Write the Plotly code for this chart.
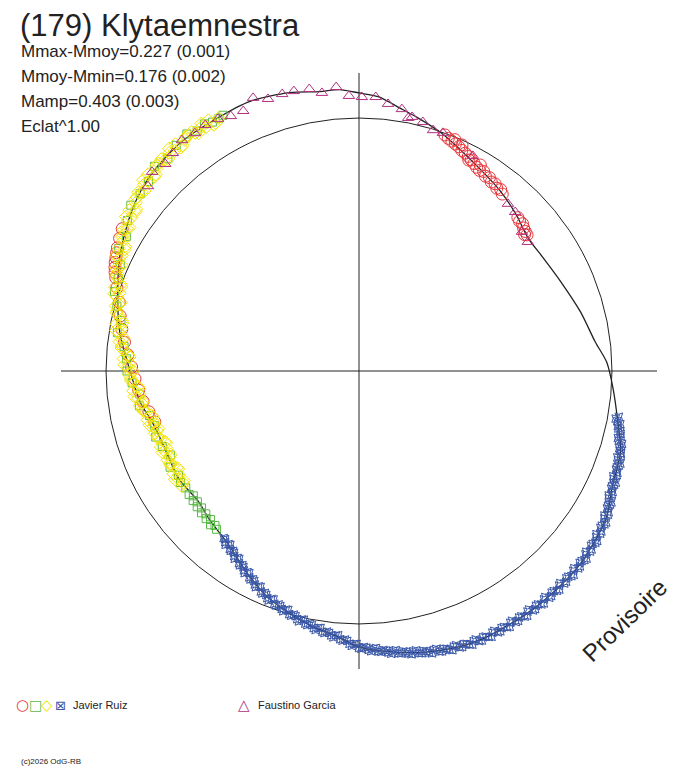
"""Polar lightcurve of (179) Klytaemnestra, recreated with Plotly."""
import plotly.graph_objects as go

# composite curve: phase angle (deg, clockwise from top) and relative flux (mean = 1)
curve_deg = [0, 4, 9, 13, 19, 27, 38, 45, 52, 58, 66, 75, 83, 88, 94, 101, 107, 115,
             121, 132, 144, 156, 164, 172, 180, 185, 190, 196, 202, 209, 217, 225,
             231, 239, 247, 255, 262, 270, 279, 286, 296, 306, 313, 322, 331, 338,
             346, 352, 356, 360]
curve_flux = [1.099, 1.087, 1.051, 1.028, 0.996, 0.949, 0.905, 0.877, 0.850, 0.854,
              0.872, 0.906, 0.941, 0.980, 1.007, 1.042, 1.081, 1.103, 1.138, 1.162,
              1.166, 1.166, 1.150, 1.123, 1.091, 1.051, 1.028, 0.996, 0.964, 0.913,
              0.858, 0.834, 0.818, 0.830, 0.826, 0.838, 0.874, 0.905, 0.957, 0.992,
              1.051, 1.103, 1.130, 1.146, 1.146, 1.150, 1.134, 1.115, 1.115, 1.099]

# Javier Ruiz - blue session, first night
blue_deg = list(range(100, 220))
blue_flux = [1.043, 1.040, 1.046, 1.060, 1.066, 1.063, 1.078, 1.077, 1.088, 1.083,
             1.093, 1.088, 1.099, 1.093, 1.104, 1.100, 1.112, 1.108, 1.124, 1.121,
             1.136, 1.131, 1.144, 1.138, 1.150, 1.144, 1.155, 1.148, 1.159, 1.152,
             1.163, 1.156, 1.166, 1.158, 1.167, 1.159, 1.168, 1.160, 1.169, 1.161,
             1.170, 1.162, 1.171, 1.162, 1.170, 1.161, 1.171, 1.162, 1.170, 1.161,
             1.170, 1.162, 1.170, 1.161, 1.170, 1.161, 1.169, 1.160, 1.167, 1.156,
             1.163, 1.152, 1.159, 1.148, 1.154, 1.142, 1.148, 1.136, 1.141, 1.129,
             1.134, 1.122, 1.127, 1.115, 1.119, 1.107, 1.111, 1.099, 1.103, 1.091,
             1.095, 1.079, 1.079, 1.063, 1.063, 1.049, 1.051, 1.038, 1.041, 1.028,
             1.032, 1.018, 1.021, 1.008, 1.011, 0.997, 1.000, 0.986, 0.989, 0.976,
             0.979, 0.965, 0.968, 0.953, 0.954, 0.939, 0.939, 0.924, 0.924, 0.909,
             0.910, 0.895, 0.896, 0.881, 0.882, 0.868, 0.869, 0.857, 0.859, 0.850]

# Javier Ruiz - blue session, second night
blue_b_deg = [a + 0.5 for a in range(100, 219)]
blue_b_flux = [1.032, 1.054, 1.050, 1.064, 1.057, 1.079, 1.073, 1.086, 1.077, 1.096,
               1.088, 1.098, 1.088, 1.107, 1.099, 1.111, 1.103, 1.125, 1.120, 1.134,
               1.126, 1.146, 1.138, 1.149, 1.139, 1.157, 1.149, 1.159, 1.148, 1.166,
               1.157, 1.166, 1.154, 1.170, 1.160, 1.168, 1.156, 1.172, 1.162, 1.170,
               1.158, 1.174, 1.163, 1.171, 1.158, 1.174, 1.163, 1.171, 1.158, 1.174,
               1.163, 1.171, 1.158, 1.174, 1.163, 1.171, 1.157, 1.171, 1.159, 1.165,
               1.150, 1.164, 1.151, 1.156, 1.140, 1.153, 1.139, 1.143, 1.127, 1.139,
               1.125, 1.129, 1.113, 1.125, 1.110, 1.114, 1.097, 1.109, 1.094, 1.098,
               1.079, 1.087, 1.068, 1.068, 1.048, 1.058, 1.042, 1.045, 1.027, 1.038,
               1.022, 1.025, 1.007, 1.018, 1.001, 1.004, 0.985, 0.996, 0.980, 0.983,
               0.964, 0.975, 0.958, 0.959, 0.938, 0.947, 0.928, 0.929, 0.909, 0.918,
               0.900, 0.901, 0.881, 0.890, 0.872, 0.873, 0.855, 0.866, 0.850]

# Javier Ruiz - red session
red_deg = [20, 21, 22, 22.5, 23, 24, 24.5, 25, 26, 27, 27.5, 28, 29, 30, 30.5, 31, 32,
           33, 34, 35, 36, 37, 38, 39, 46, 47, 48, 49, 50, 50.5, 51,
           256, 259, 262, 265, 268, 271, 274, 277, 280, 283, 286, 289, 291, 292, 293,
           294, 295, 296, 297, 299, 301]
red_flux = [0.993, 0.985, 0.980, 0.990, 0.975, 0.970, 0.982, 0.962, 0.958, 0.952,
            0.940, 0.945, 0.938, 0.930, 0.945, 0.925, 0.930, 0.918, 0.922, 0.912,
            0.915, 0.905, 0.910, 0.900, 0.873, 0.868, 0.870, 0.862, 0.858, 0.848,
            0.855,
            0.832, 0.846, 0.862, 0.874, 0.886, 0.899, 0.916, 0.934, 0.952, 0.969,
            0.986, 1.012, 1.030, 1.040, 1.048, 1.055, 1.060, 1.066, 1.072, 1.082,
            1.092]

# Javier Ruiz - green session
green_deg = [222, 223, 224, 225, 226, 227, 228, 229, 230, 231, 232, 233, 234, 236, 238,
             240, 243, 246, 249, 252, 255, 258, 261, 264, 267, 270, 273, 276, 279, 282,
             285, 288, 291, 294, 297, 300, 303, 306, 309, 312, 315, 318, 321, 324, 326,
             328, 329.5, 331, 332]
green_flux = [0.842, 0.835, 0.845, 0.830, 0.840, 0.828, 0.838, 0.825, 0.835, 0.822,
              0.832, 0.820, 0.830, 0.826, 0.832, 0.824, 0.838, 0.816, 0.833, 0.845,
              0.836, 0.847, 0.879, 0.872, 0.898, 0.917, 0.920, 0.934, 0.967, 0.962,
              0.991, 1.016, 1.019, 1.033, 1.066, 1.062, 1.092, 1.115, 1.113, 1.120,
              1.144, 1.129, 1.148, 1.158, 1.144, 1.152, 1.142, 1.142, 1.145]

# Javier Ruiz - yellow session, first night
yellow_deg = list(range(237, 332))
yellow_flux = [0.835, 0.817, 0.832, 0.822, 0.839, 0.814, 0.826, 0.831, 0.835, 0.814,
               0.828, 0.819, 0.839, 0.816, 0.830, 0.837, 0.843, 0.825, 0.840, 0.835,
               0.858, 0.839, 0.856, 0.868, 0.877, 0.862, 0.880, 0.874, 0.896, 0.876,
               0.892, 0.902, 0.909, 0.893, 0.913, 0.909, 0.932, 0.914, 0.932, 0.944,
               0.954, 0.939, 0.959, 0.954, 0.977, 0.958, 0.975, 0.986, 0.995, 0.980,
               1.000, 0.996, 1.020, 1.002, 1.019, 1.031, 1.041, 1.027, 1.047, 1.043,
               1.066, 1.047, 1.065, 1.076, 1.085, 1.070, 1.090, 1.085, 1.108, 1.089,
               1.105, 1.115, 1.123, 1.107, 1.125, 1.118, 1.140, 1.118, 1.132, 1.140,
               1.145, 1.127, 1.143, 1.135, 1.154, 1.132, 1.144, 1.150, 1.154, 1.134,
               1.148, 1.138, 1.156, 1.132, 1.144]

# Javier Ruiz - yellow session, second night
yellow_b_deg = [a + 0.5 for a in range(237, 330, 2)]
yellow_b_flux = [0.824, 0.844, 0.813, 0.834, 0.823, 0.841, 0.814, 0.839, 0.832, 0.855,
                 0.835, 0.867, 0.868, 0.894, 0.872, 0.902, 0.899, 0.928, 0.909, 0.943,
                 0.945, 0.974, 0.954, 0.986, 0.986, 1.015, 0.997, 1.030, 1.032, 1.062,
                 1.043, 1.076, 1.076, 1.105, 1.085, 1.115, 1.113, 1.139, 1.115, 1.141,
                 1.134, 1.156, 1.129, 1.152, 1.142, 1.160, 1.130]

# Faustino Garcia
purple_deg = [311.2, 313.9, 316.9, 319.5, 322.5, 325.4, 328.0, 330.8, 333.3, 336.0,
              338.8, 341.5, 344.5, 346.9, 350.0, 352.4, 355.4, 357.9, 0.6, 3.5, 6.2,
              9.3, 11.0, 11.8, 14.4, 17.1, 19.4, 27.9, 41.7, 44.5, 49.5, 52.6]
purple_flux = [1.109, 1.135, 1.121, 1.133, 1.150, 1.142, 1.147, 1.142, 1.128, 1.125,
               1.158, 1.134, 1.136, 1.136, 1.132, 1.109, 1.126, 1.088, 1.083, 1.085,
               1.062, 1.049, 1.019, 1.026, 1.016, 0.996, 0.998, 0.962, 0.885, 0.881,
               0.847, 0.840]

info_lines = ["Mmax-Mmoy=0.227 (0.001)", "Mmoy-Mmin=0.176 (0.002)",
              "Mamp=0.403 (0.003)", "Eclat^1.00"]

RED = "#e8343a"
GREEN = "#5ab946"
YELLOW = "#f2e400"
BLUE = "#3a58a8"
PURPLE = "#b0307f"
INK = "#222222"
FONT = "Liberation Sans, Arial, sans-serif"

# page has an 8px body margin, so the figure is a bit smaller than the window
OFF = 8
W, H = 680, 760
CX, CY, R_OUT = 359, 371, 298  # centre and crosshair length, window px


def px_x(v):
    return (v - OFF) / W


def px_y(v):
    return 1 - (v - OFF) / H


fig = go.Figure()

fig.add_trace(go.Scatterpolar(
    r=curve_flux, theta=curve_deg, mode="lines",
    line=dict(color=INK, width=1.3, shape="spline", smoothing=0.8),
    hoverinfo="skip",
))


def add_set(deg, flux, symbol, color, size):
    fig.add_trace(go.Scatterpolar(
        r=flux, theta=deg, mode="markers",
        marker=dict(symbol=symbol, size=size, color=color,
                    line=dict(color=color, width=1)),
        hoverinfo="skip",
    ))


add_set(blue_deg + blue_b_deg, blue_flux + blue_b_flux, "star-square-open", BLUE, 7)
add_set(red_deg, red_flux, "circle-open", RED, 12)
add_set(green_deg, green_flux, "square-open", GREEN, 8)
add_set(yellow_deg + yellow_b_deg, yellow_flux + yellow_b_flux, "diamond-open", YELLOW, 10)
add_set(purple_deg, purple_flux, "triangle-up-open", PURPLE, 10)

fig.update_layout(
    width=W, height=H,
    margin=dict(l=0, r=0, t=0, b=0),
    paper_bgcolor="white",
    showlegend=False,
    hovermode=False,
    polar=dict(
        domain=dict(x=[px_x(CX - R_OUT), px_x(CX + R_OUT)],
                    y=[px_y(CY + R_OUT), px_y(CY - R_OUT)]),
        bgcolor="white",
        radialaxis=dict(range=[0, 1.178], tickvals=[1.0], showticklabels=False,
                        ticks="", showgrid=True, gridcolor=INK, gridwidth=1,
                        showline=False),
        angularaxis=dict(rotation=90, direction="clockwise",
                         tickvals=[0, 90, 180, 270], showticklabels=False, ticks="",
                         showgrid=True, gridcolor=INK, gridwidth=1, showline=False),
    ),
    font=dict(family=FONT, color=INK),
)

annotations = [
    dict(text="(179) Klytaemnestra", x=px_x(18), y=px_y(26), font=dict(size=31),
         xanchor="left", yanchor="middle"),
]
for i, line in enumerate(info_lines):
    annotations.append(dict(text=line, x=px_x(19), y=px_y(52 + 24.7 * i),
                            font=dict(size=17), xanchor="left", yanchor="middle"))

# legend row
for xc, glyph, col, sz in [(22, "○", RED, 15), (35, "□", GREEN, 14), (47, "◇", YELLOW, 15),
                           (60, "⊠", BLUE, 13), (244, "△", PURPLE, 15)]:
    annotations.append(dict(text=glyph, x=px_x(xc), y=px_y(705), xanchor="center",
                            yanchor="middle", font=dict(size=sz, color=col,
                                                        family="DejaVu Sans")))
annotations.append(dict(text="Javier Ruiz", x=px_x(71), y=px_y(705), xanchor="left",
                        yanchor="middle", font=dict(size=11)))
annotations.append(dict(text="Faustino Garcia", x=px_x(256), y=px_y(705),
                        xanchor="left", yanchor="middle", font=dict(size=11)))
annotations.append(dict(text="(c)2026 OdG-RB", x=px_x(19), y=px_y(761),
                        xanchor="left", yanchor="middle", font=dict(size=8)))
annotations.append(dict(text="Provisoire", x=px_x(624), y=px_y(620), textangle=-44,
                        xanchor="center", yanchor="middle", font=dict(size=24)))

for a in annotations:
    a.update(xref="paper", yref="paper", showarrow=False)
fig.update_layout(annotations=annotations)

fig.write_html("out.html")
